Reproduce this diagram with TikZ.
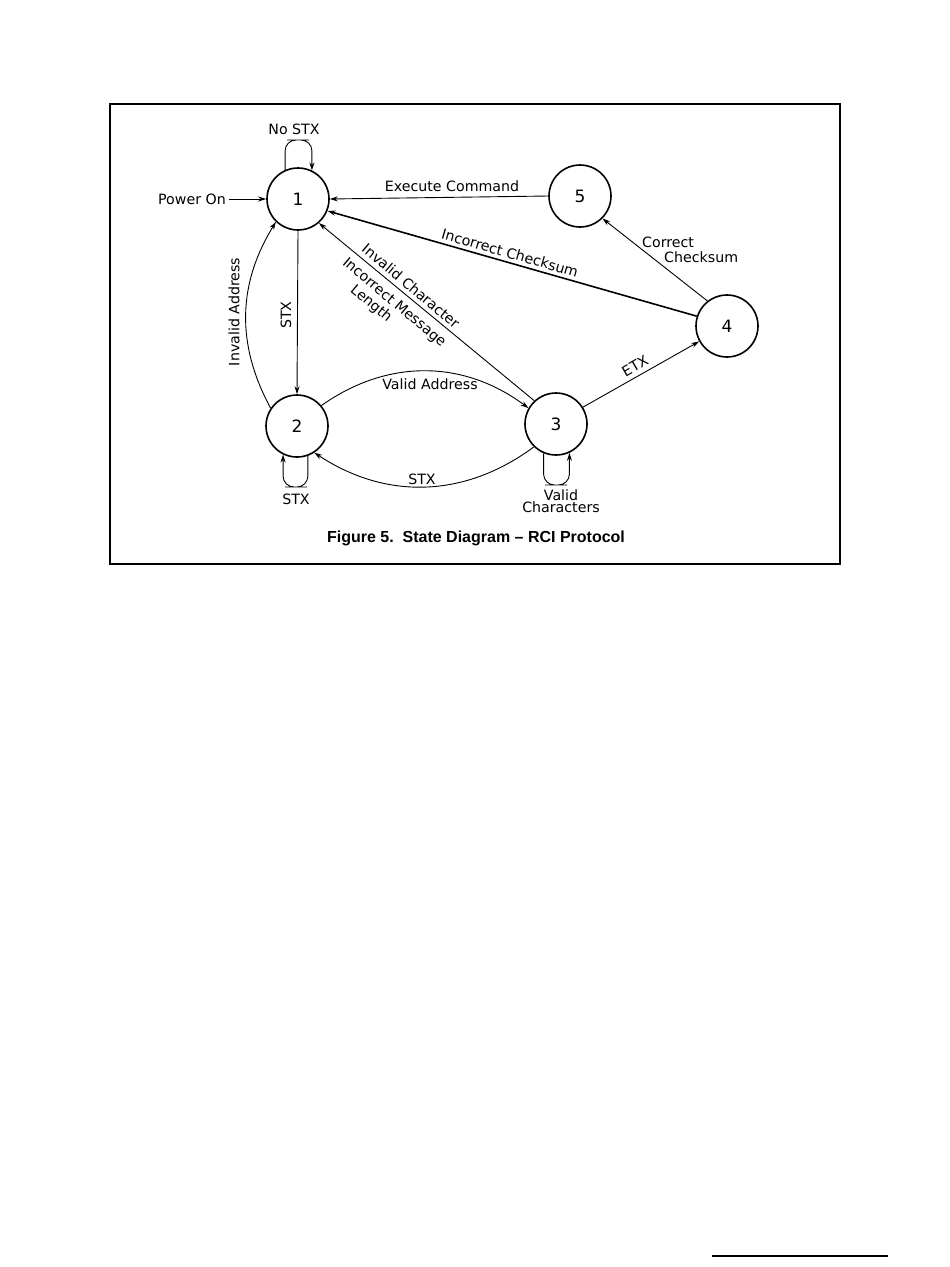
\documentclass[tikz,border=0pt]{standalone}
\usepackage{fontspec}
\setmainfont{DejaVu Sans}
\newfontfamily\capfont{Liberation Sans}
\usetikzlibrary{arrows.meta}
\begin{document}
\begin{tikzpicture}[x=1pt,y=-1pt,
  state/.style={circle,draw,line width=1.6pt,minimum size=62pt,inner sep=0pt,font=\fontsize{17}{17}\selectfont},
  edge/.style={line width=0.9pt,-{Stealth[length=8pt,width=5pt]}},
  thickedge/.style={edge,line width=1.6pt},
  lbl/.style={font=\fontsize{14.2}{15}\selectfont,inner sep=0pt},
]
\useasboundingbox (0,0) rectangle (950,1267);
\draw[line width=1.5pt] (110,104) rectangle (840,564);
\draw[line width=1.3pt] (712,1256) -- (888,1256);

\node[state] (n1) at (298,199) {1};
\node[state] (n2) at (297,426) {2};
\node[state] (n3) at (556,424) {3};
\node[state] (n4) at (727,326) {4};
\node[state] (n5) at (580,196) {5};

\coordinate (t1) at (298,140);
\coordinate (t2) at (296,487);
\coordinate (t3) at (556,485);

% Power On
\node[lbl,anchor=east,inner xsep=3pt] (pw) at (229,199) {Power On};
\draw[edge] (pw) -- (n1);

% loops
\draw[edge,rounded corners=11pt] (n1.114) |- (t1) -| (n1.64);
\node[lbl] (lnostx) at (294,129) {No STX};
\draw[edge,rounded corners=11pt] (n2.-70) |- (t2) -| (n2.-116);
\node[lbl] (lstx2) at (296,499) {STX};
\draw[edge,rounded corners=11pt] (n3.-113) |- (t3) -| (n3.-65);
\node[lbl,align=center] (lvc) at (561,501) {Valid\\[-3pt]Characters};

% edges
\draw[edge] (n5.180) -- (n1.0);
\node[lbl] (lexec) at (452,186) {Execute Command};

\draw[thickedge] (n4.162) -- (n1.-22);
\node[lbl,rotate=-16] (lics) at (510,253) {Incorrect Checksum};

\draw[edge] (n4.128) -- (n5.-45);
\node[lbl,anchor=west] (lcc1) at (642,242) {Correct};
\node[lbl,anchor=west] (lcc2) at (664,257) {Checksum};

\draw[edge] (n3.133) -- (n1.-49);
\node[lbl,rotate=-40] (linv) at (411,286) {Invalid Character};
\node[lbl,rotate=-40] (lim) at (394,303) {Incorrect Message};
\node[lbl,rotate=-40] (llen) at (371,304) {Length};

\draw[edge] (n1.270) -- (n2.90);
\node[lbl,rotate=90] (lstx1) at (286,315) {STX};

\draw[edge] (n2.146) to[bend left=30] (n1.226);
\node[lbl,rotate=90] (linva) at (234,312) {Invalid Address};

\draw[edge] (n2.40) to[bend left=36] (n3.150);
\node[lbl] (lva) at (430,384) {Valid Address};

\draw[edge] (n3.226) to[bend left=35] (n2.-57);
\node[lbl] (lstx3) at (422,479) {STX};

\draw[edge] (n3.32) -- (n4.209);
\node[lbl,rotate=30] (letx) at (635,366) {ETX};

\node[font=\capfont\bfseries\fontsize{16}{17}\selectfont,inner sep=0pt] (cap) at (476,538) {Figure 5.\ \ State Diagram – RCI Protocol};
\end{tikzpicture}
\end{document}
